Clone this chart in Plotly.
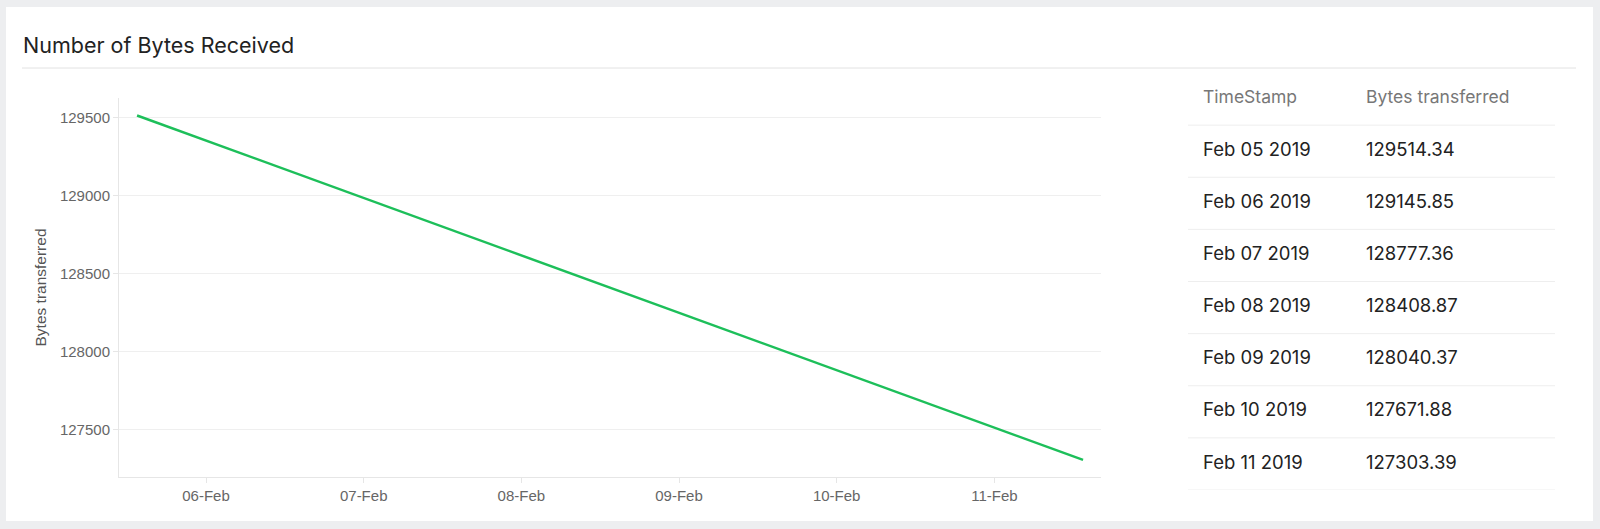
import plotly.graph_objects as go

# ---- data ----
timestamps = ["2019-02-05 13:30", "2019-02-06 13:30", "2019-02-07 13:30", "2019-02-08 13:30",
              "2019-02-09 13:30", "2019-02-10 13:30", "2019-02-11 13:30"]
table_dates = ["Feb 05 2019", "Feb 06 2019", "Feb 07 2019", "Feb 08 2019",
               "Feb 09 2019", "Feb 10 2019", "Feb 11 2019"]
bytes_values = [129514.34, 129145.85, 128777.36, 128408.87, 128040.37, 127671.88, 127303.39]
y_ticks = [127500, 128000, 128500, 129000, 129500]
table_headers = ["TimeStamp", "Bytes transferred"]
chart_title = "Number of Bytes Received"
y_title = "Bytes transferred"

W, H = 1600, 529
def px_x(p):
    return p / W
def px_y(p):
    return (H - p) / H

AXIS_FONT = "Liberation Sans, Arial, sans-serif"
UI_FONT = "Inter, Lato, sans-serif"

fig = go.Figure()

fig.add_trace(go.Scatter(
    x=timestamps, y=bytes_values, mode="lines",
    line=dict(color="#1DBF5A", width=2.5),
    xaxis="x", yaxis="y", showlegend=False,
    hovertemplate="%{x}<br>%{y}<extra></extra>",
))

# table as text on a helper axis pair
n_rows = len(table_dates)
row_centers = [i + 1.5 for i in range(n_rows)]
col_x = [0.041, 0.485]
fig.add_trace(go.Scatter(
    x=col_x, y=[0.5, 0.5], mode="text", text=table_headers,
    textposition="middle right",
    textfont=dict(family=UI_FONT, size=17.5, color="#777777"),
    xaxis="x2", yaxis="y2", showlegend=False, hoverinfo="skip",
))
fig.add_trace(go.Scatter(
    x=[col_x[0]] * n_rows, y=row_centers, mode="text", text=table_dates,
    textposition="middle right",
    textfont=dict(family=UI_FONT, size=18.5, color="#222222"),
    xaxis="x2", yaxis="y2", showlegend=False, hoverinfo="skip",
))
fig.add_trace(go.Scatter(
    x=[col_x[1]] * n_rows, y=row_centers, mode="text",
    text=[f"{v:.2f}" for v in bytes_values],
    textposition="middle right",
    textfont=dict(family=UI_FONT, size=18.5, color="#222222"),
    xaxis="x2", yaxis="y2", showlegend=False, hoverinfo="skip",
))

shapes = [
    # card
    dict(type="rect", xref="paper", yref="paper", x0=px_x(6), x1=px_x(1593),
         y0=px_y(521), y1=px_y(7), fillcolor="white", line=dict(width=0), layer="below"),
    # title separator
    dict(type="line", xref="paper", yref="paper", x0=px_x(22), x1=px_x(1576),
         y0=px_y(68), y1=px_y(68), line=dict(color="#E2E2E2", width=1)),
]
for k in range(1, n_rows + 2):
    shapes.append(dict(type="line", xref="x2", yref="y2", x0=0, x1=1, y0=k, y1=k,
                       line=dict(color="#EEEEEE", width=1)))

fig.update_layout(
    width=W, height=H,
    margin=dict(l=0, r=0, t=0, b=0),
    paper_bgcolor="#EDEEF0",
    plot_bgcolor="white",
    shapes=shapes,
    annotations=[
        dict(text=chart_title, xref="paper", yref="paper", x=px_x(21), y=px_y(45),
             xanchor="left", yanchor="middle", showarrow=False,
             font=dict(family=UI_FONT, size=21.5, color="#222222")),
        dict(text=y_title, xref="paper", yref="paper", x=px_x(40), y=px_y(287.5),
             xanchor="center", yanchor="middle", showarrow=False, textangle=-90,
             font=dict(family=AXIS_FONT, size=15.5, color="#555555")),
    ],
    xaxis=dict(
        domain=[px_x(119), px_x(1101)],
        type="date",
        range=["2019-02-05 10:45", "2019-02-11 16:14"],
        tick0="2019-02-06", dtick=86400000, tickformat="%d-%b",
        showgrid=False, zeroline=False,
        showline=True, linecolor="#E6E6E6", linewidth=1,
        ticks="outside", ticklen=5, tickcolor="#E6E6E6",
        tickfont=dict(family=AXIS_FONT, size=15, color="#666666"),
        anchor="y",
    ),
    yaxis=dict(
        domain=[px_y(477), px_y(98)],
        range=[127193.8, 129626.4],
        tickvals=y_ticks, ticktext=[str(v) for v in y_ticks],
        showgrid=True, gridcolor="#EFEFEF", gridwidth=1, zeroline=False,
        showline=True, linecolor="#E6E6E6", linewidth=1,
        ticks="outside", ticklen=5, tickcolor="#E6E6E6",
        tickfont=dict(family=AXIS_FONT, size=15, color="#666666"),
        anchor="x",
    ),
    xaxis2=dict(domain=[px_x(1188), px_x(1555)], range=[0, 1], visible=False,
                fixedrange=True, anchor="y2"),
    yaxis2=dict(domain=[px_y(490), px_y(73)], range=[n_rows + 1, 0], visible=False,
                fixedrange=True, anchor="x2"),
)

fig.write_html("out.html", config={"displayModeBar": False},
               post_script="document.body.style.margin='0';document.body.style.overflow='hidden';")
